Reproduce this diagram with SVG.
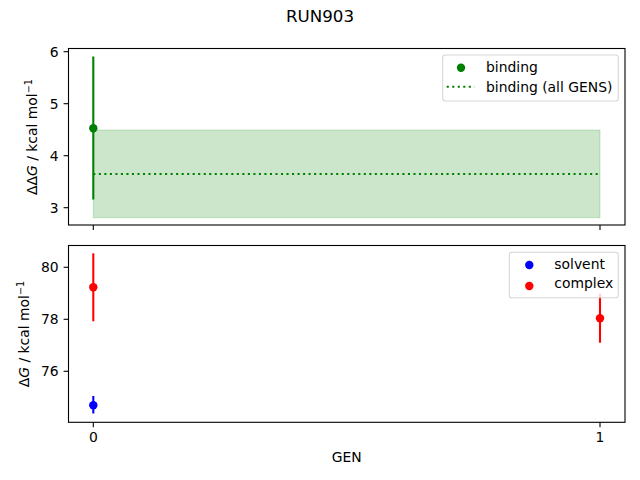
<svg xmlns="http://www.w3.org/2000/svg" width="640" height="480" viewBox="0 0 640 480">
<style>
text{font-family:"DejaVu Sans","Liberation Sans",sans-serif;fill:#000}
.t{font-size:13.9px}
.tk{stroke:#000;stroke-width:1.1}
.sp{fill:none;stroke:#000;stroke-width:1.1}
.lg{fill:#fff;fill-opacity:0.8;stroke:#ccc;stroke-opacity:0.8;stroke-width:1.1}
.eg{stroke:#008000;stroke-width:2.08}
.er{stroke:#f00;stroke-width:2.08}
.eb{stroke:#00f;stroke-width:2.08}
</style>
<rect width="640" height="480" fill="#fff"/>
<text x="320" y="21.8" text-anchor="middle" style="font-size:16.7px">RUN903</text>

<g id="top-axes">
  <rect x="93.3" y="130" width="506.7" height="87.7" fill="#008000" fill-opacity="0.2" stroke="#008000" stroke-opacity="0.2" stroke-width="1"/>
  <line x1="93.3" y1="174" x2="600" y2="174" stroke="#008000" stroke-width="2.08" stroke-dasharray="2.08 3.44"/>
  <line class="eg" x1="93.3" y1="56.5" x2="93.3" y2="199.5"/>
  <circle cx="93.3" cy="128.3" r="4.2" fill="#008000"/>
  <rect class="sp" x="68.5" y="48.5" width="556.5" height="176.5"/>
  <g class="tk">
    <line x1="68.5" y1="51.7" x2="63.6" y2="51.7"/>
    <line x1="68.5" y1="103.7" x2="63.6" y2="103.7"/>
    <line x1="68.5" y1="155.7" x2="63.6" y2="155.7"/>
    <line x1="68.5" y1="207.7" x2="63.6" y2="207.7"/>
    <line x1="93.3" y1="225" x2="93.3" y2="229.9"/>
    <line x1="600" y1="225" x2="600" y2="229.9"/>
  </g>
  <g class="t" text-anchor="end">
    <text x="58.6" y="56.8">6</text>
    <text x="58.6" y="108.8">5</text>
    <text x="58.6" y="160.8">4</text>
    <text x="58.6" y="212.8">3</text>
  </g>
  <text class="t" transform="translate(37.3,137) rotate(-90)" text-anchor="middle">ΔΔ<tspan font-style="italic">G</tspan> / kcal mol<tspan font-size="9.7px" dy="-5.5">−1</tspan></text>
  <g id="legend-top">
    <rect class="lg" x="442.7" y="55" width="175.6" height="46" rx="2.8"/>
    <circle cx="461" cy="67.8" r="4.2" fill="#008000"/>
    <line x1="446.7" y1="86.7" x2="474.5" y2="86.7" stroke="#008000" stroke-width="2.08" stroke-dasharray="2.08 3.44"/>
    <text class="t" x="486" y="72.3">binding</text>
    <text class="t" x="486" y="91.6">binding (all GENS)</text>
  </g>
</g>

<g id="bottom-axes">
  <line class="er" x1="93.3" y1="253.3" x2="93.3" y2="321.3"/>
  <circle cx="93.3" cy="287.3" r="4.2" fill="#f00"/>
  <line class="eb" x1="93.3" y1="396" x2="93.3" y2="413.5"/>
  <circle cx="93.3" cy="405.3" r="4.2" fill="#00f"/>
  <line class="er" x1="600" y1="293.8" x2="600" y2="342.7"/>
  <circle cx="600" cy="318.3" r="4.2" fill="#f00"/>
  <rect class="sp" x="68.5" y="245.5" width="556.5" height="176.8"/>
  <g class="tk">
    <line x1="68.5" y1="267.3" x2="63.6" y2="267.3"/>
    <line x1="68.5" y1="319.3" x2="63.6" y2="319.3"/>
    <line x1="68.5" y1="371.3" x2="63.6" y2="371.3"/>
    <line x1="93.3" y1="422.3" x2="93.3" y2="427.2"/>
    <line x1="600" y1="422.3" x2="600" y2="427.2"/>
  </g>
  <g class="t" text-anchor="end">
    <text x="58.6" y="272.4">80</text>
    <text x="58.6" y="324.4">78</text>
    <text x="58.6" y="376.4">76</text>
  </g>
  <g class="t" text-anchor="middle">
    <text x="93.3" y="441.6">0</text>
    <text x="600" y="441.6">1</text>
    <text x="346.7" y="461.6">GEN</text>
  </g>
  <text class="t" transform="translate(29,334) rotate(-90)" text-anchor="middle">Δ<tspan font-style="italic">G</tspan> / kcal mol<tspan font-size="9.7px" dy="-5.5">−1</tspan></text>
  <g id="legend-bottom">
    <rect class="lg" x="509.3" y="252.3" width="109" height="45.4" rx="2.8"/>
    <circle cx="529.3" cy="265" r="4.2" fill="#00f"/>
    <circle cx="529.3" cy="286" r="4.2" fill="#f00"/>
    <text class="t" x="554.3" y="268.8">solvent</text>
    <text class="t" x="554.3" y="288.3">complex</text>
  </g>
</g>
</svg>
